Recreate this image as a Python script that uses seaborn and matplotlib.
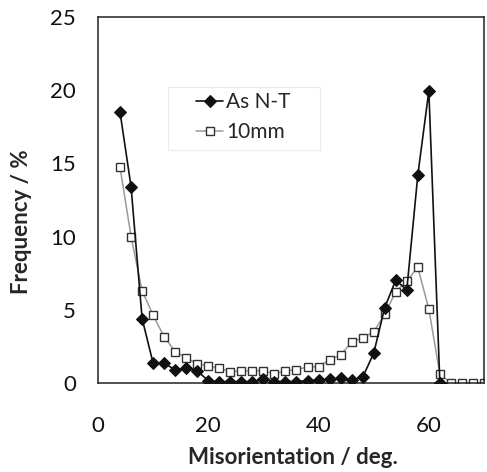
import matplotlib
matplotlib.use("Agg")
import matplotlib.pyplot as plt
from matplotlib.patches import Rectangle
import seaborn as sns
import pandas as pd

# Misorientation angle bins (deg.)
angle_as_nt = [4, 6, 8, 10, 12, 14, 16, 18, 20, 22, 24, 26, 28, 30, 32, 34,
               36, 38, 40, 42, 44, 46, 48, 50, 52, 54, 56, 58, 60, 62]
freq_as_nt = [18.5, 13.4, 4.4, 1.35, 1.35, 0.9, 1.0, 0.82, 0.16, 0.09, 0.09,
              0.09, 0.1, 0.25, 0.1, 0.1, 0.1, 0.15, 0.2, 0.25, 0.32, 0.2,
              0.39, 2.03, 5.15, 7.03, 6.35, 14.2, 19.95, 0.0]

angle_10mm = [4, 6, 8, 10, 12, 14, 16, 18, 20, 22, 24, 26, 28, 30, 32, 34,
              36, 38, 40, 42, 44, 46, 48, 50, 52, 54, 56, 58, 60, 62, 64, 66,
              68, 70]
freq_10mm = [14.73, 10.0, 6.31, 4.62, 3.16, 2.14, 1.73, 1.3, 1.16, 1.02, 0.77,
             0.82, 0.84, 0.84, 0.61, 0.84, 0.89, 1.11, 1.1, 1.6, 1.91, 2.78,
             3.09, 3.5, 4.69, 6.24, 6.97, 7.9, 5.05, 0.61, 0.0, 0.0, 0.0, 0.0]

x_ticks = [0, 20, 40, 60]
y_ticks = [0, 5, 10, 15, 20, 25]

sns.set_style("white")
plt.rcParams["font.family"] = ["Lato", "DejaVu Sans"]

df_a = pd.DataFrame({"angle": angle_as_nt, "freq": freq_as_nt})
df_b = pd.DataFrame({"angle": angle_10mm, "freq": freq_10mm})

fig = plt.figure(figsize=(4.87, 4.72), dpi=100)
ax = fig.add_axes([0.2012, 0.1886, 0.7926, 0.7754])

sns.lineplot(data=df_a, x="angle", y="freq", ax=ax, color="#111111",
             linewidth=1.2, marker="D", markersize=6, markeredgecolor="#111111",
             markerfacecolor="#111111", label="As N-T", zorder=3)
sns.lineplot(data=df_b, x="angle", y="freq", ax=ax, color="#9a9a9a",
             linewidth=1.1, marker="s", markersize=6, markeredgecolor="#333333",
             markerfacecolor="white", markeredgewidth=1.0, label="10mm", zorder=2)

ax.set_xlim(0, 70)
ax.set_ylim(0, 25)
ax.set_xticks(x_ticks)
ax.set_yticks(y_ticks)
ax.tick_params(axis="both", direction="in", length=7, width=1, color="#222222",
               labelsize=16, labelcolor="#111111")
ax.tick_params(axis="x", pad=24)
ax.tick_params(axis="y", pad=16)
for s in ax.spines.values():
    s.set_visible(True)
    s.set_color("#222222")
    s.set_linewidth(1.1)

ax.set_xlabel("Misorientation / deg.", fontsize=16, fontweight="bold")
ax.set_ylabel("Frequency / %", fontsize=16, fontweight="bold")
ax.xaxis.set_label_coords(0.504, -0.175)
ax.yaxis.set_label_coords(-0.171, 0.44)

# legend box with a faint outline, wider than its entries
ax.add_patch(Rectangle((0.181, 0.637), 0.394, 0.172, transform=ax.transAxes,
                       facecolor="white", edgecolor="#ececec", linewidth=0.8,
                       zorder=4))
leg = ax.legend(loc="upper left", bbox_to_anchor=(0.254, 0.795), fontsize=15,
                frameon=False, handlelength=1.3, handletextpad=0.15,
                borderpad=0.0, labelspacing=0.5, borderaxespad=0.0)
leg.set_zorder(5)

fig.savefig("out.png", dpi=100)
